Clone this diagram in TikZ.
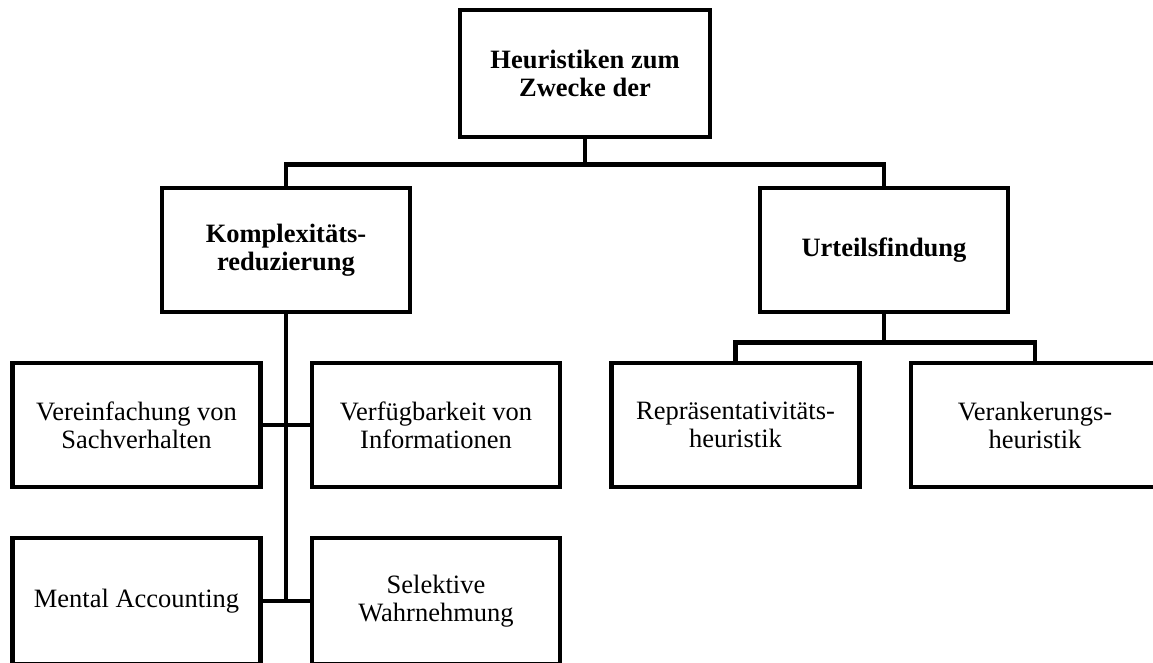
\documentclass[tikz,border=0pt]{standalone}
\usepackage{fontspec}
\setmainfont{Liberation Serif}
\begin{document}
\begin{tikzpicture}[x=1pt,y=-1pt,
  box/.style={draw=black,line width=4.5pt,minimum width=248pt,minimum height=124pt,
    inner sep=0pt,align=center,font=\fontsize{26.5}{28}\selectfont},
  head/.style={box,font=\fontsize{26.5}{28}\selectfont\bfseries},
  lowbox/.style={box,minimum height=126pt},
  conn/.style={draw=black,line width=4.5pt}]
\useasboundingbox (0,0) rectangle (1153,662);
\clip (0,0) rectangle (1153,662);
\fill[white] (0,0) rectangle (1153,662);
\node[head,minimum width=250pt,minimum height=127pt] (top) at (585,73.5) {Heuristiken zum\\Zwecke der};
\node[head] (komp) at (286,250) {Komplexitäts-\\reduzierung};
\node[head] (urt) at (884,250) {Urteilsfindung};
\node[box] (vereinf) at (136.5,425) {Vereinfachung von\\Sachverhalten};
\node[box] (verf) at (436,425) {Verfügbarkeit von\\Informationen};
\node[lowbox] (mental) at (136.5,601) {Mental Accounting};
\node[lowbox] (selekt) at (436,601) {Selektive\\Wahrnehmung};
\node[box] (repr) at (735.5,425) {Repräsentativitäts-\\heuristik};
\node[box] (verank) at (1035,425) {Verankerungs-\\heuristik};
\coordinate (trunkend) at (komp.south |- mental.east);
\draw[conn] (top.south) -- ++(0,25) -| (komp.north);
\draw[conn] (top.south) -- ++(0,25) -| (urt.north);
\draw[conn] (komp.south) -- ([yshift=-2.25pt]trunkend);
\draw[conn] (vereinf.east) -- (verf.west);
\draw[conn] (mental.east) -- (selekt.west);
\draw[conn] (urt.south) -- ++(0,28) -| (repr.north);
\draw[conn] (urt.south) -- ++(0,28) -| (verank.north);
\end{tikzpicture}
\end{document}
